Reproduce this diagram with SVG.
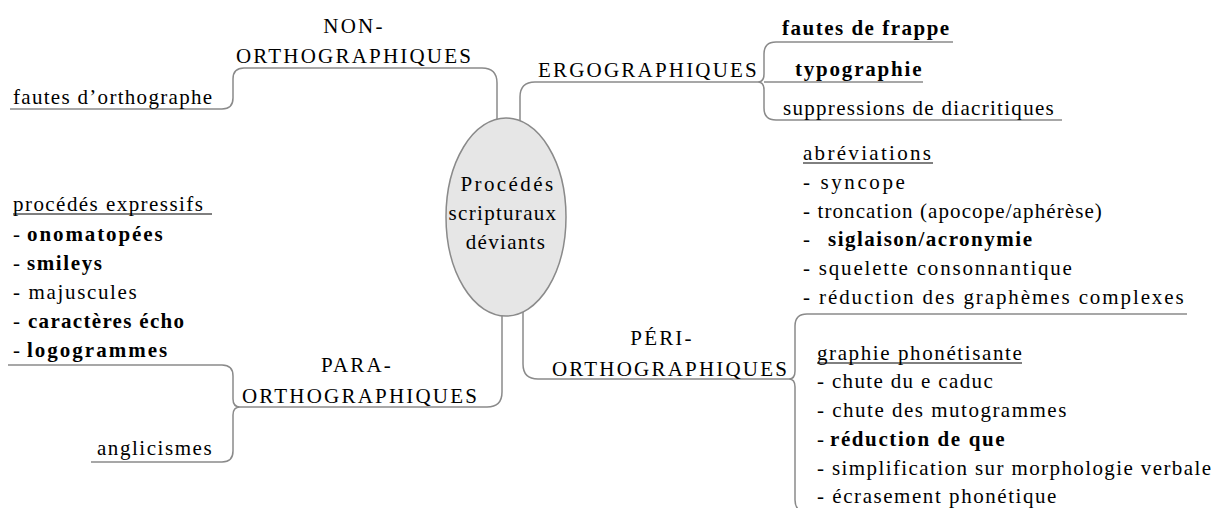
<svg xmlns="http://www.w3.org/2000/svg" width="1213" height="508" viewBox="0 0 1213 508">
<style>
.b{font-weight:bold}
.c{fill:none;stroke:#8a8a8a;stroke-width:1.5}
.u{stroke:#000;stroke-width:1}
</style>
<rect width="1213" height="508" fill="#fff"/>
<g id="connectors">
<path class="c" d="M10,109 L222,109 Q233,109 233,98 L233,79 Q233,68 244,68 L482,68 Q497,68 497,83 L497,122"/>
<path class="c" d="M520,122 L520,97 Q520,82 535,82 L758,82"/>
<path class="c" d="M953,42 L776,42 Q764,42 764,54 L764,74 Q764,82 758,82 Q764,82 764,90 L764,108 Q764,120 776,120 L1062,120 M764,82 L923,82"/>
<path class="c" d="M523,312 L523,364 Q523,379 538,379 L789,379"/>
<path class="c" d="M1187,314 L807,314 Q795,314 795,326 L795,371 Q795,379 789,379 Q795,379 795,387 L795,500 Q795,512 807,512"/>
<path class="c" d="M502,312 L502,392 Q502,407 487,407 L240,407"/>
<path class="c" d="M8,365 L222,365 Q233,365 233,376 L233,399 Q233,407 240,407 Q233,407 233,415 L233,451 Q233,462 222,462 L91,462"/>
</g>
<g font-family="Liberation Serif, serif" font-size="21" fill="#000">
<g id="center">
<ellipse cx="506" cy="217" rx="60" ry="99" fill="#e6e6e6" stroke="#8a8a8a" stroke-width="1.5"/>
<text x="508" y="191" text-anchor="middle" letter-spacing="2.4">Procédés</text>
<text x="503" y="220" text-anchor="middle" letter-spacing="1.3">scripturaux</text>
<text x="506" y="249" text-anchor="middle" letter-spacing="1.3">déviants</text>
</g>
<g id="non-ortho">
<text x="354" y="33" text-anchor="middle" letter-spacing="2.2">NON-</text>
<text x="236" y="63" letter-spacing="2.2">ORTHOGRAPHIQUES</text>
</g>
<g id="fautes-orthographe">
<text x="13" y="104" letter-spacing="1.3">fautes d’orthographe</text>
</g>
<g id="ergo">
<text x="538" y="77" letter-spacing="2.2">ERGOGRAPHIQUES</text>
</g>
<g id="fautes-frappe"><text class="b" x="782" y="35" letter-spacing="1.5">fautes de frappe</text></g>
<g id="typographie"><text class="b" x="795" y="76" letter-spacing="1.8">typographie</text></g>
<g id="suppressions"><text x="783" y="115" letter-spacing="1.3">suppressions de diacritiques</text></g>
<g id="peri">
<text x="662" y="345" text-anchor="middle" letter-spacing="2.2">PÉRI-</text>
<text x="552" y="376" letter-spacing="2.2">ORTHOGRAPHIQUES</text>
</g>
<g id="abreviations">
<text x="803" y="160" letter-spacing="2.3">abréviations</text>
<line class="u" x1="803" y1="163" x2="933" y2="163"/>
<text x="803" y="189" letter-spacing="2.6">- syncope</text>
<text x="803" y="218" letter-spacing="1.1">- troncation (apocope/aphérèse)</text>
<text x="803" y="246">-</text><text class="b" x="828" y="246" letter-spacing="1.5">siglaison/acronymie</text>
<text x="803" y="275" letter-spacing="1.8">- squelette consonnantique</text>
<text x="803" y="304" letter-spacing="1.9">- réduction des graphèmes complexes</text>
</g>
<g id="graphie-phonetisante">
<text x="817" y="360" letter-spacing="1.6">graphie phonétisante</text>
<line class="u" x1="817" y1="363" x2="1022" y2="363"/>
<text x="817" y="388" letter-spacing="1.35">- chute du e caduc</text>
<text x="817" y="417" letter-spacing="1.5">- chute des mutogrammes</text>
<text x="817" y="446">-</text><text class="b" x="830" y="446" letter-spacing="1.6">réduction de que</text>
<text x="817" y="475" letter-spacing="1.4">- simplification sur morphologie verbale</text>
<text x="817" y="503" letter-spacing="1.55">- écrasement phonétique</text>
</g>
<g id="para">
<text x="357" y="372" text-anchor="middle" letter-spacing="2.2">PARA-</text>
<text x="242" y="403" letter-spacing="2.2">ORTHOGRAPHIQUES</text>
</g>
<g id="procedes-expressifs">
<text x="13" y="211" letter-spacing="1.45">procédés expressifs</text>
<line class="u" x1="13" y1="214" x2="212" y2="214"/>
<text x="13" y="241">-</text><text class="b" x="27" y="241" letter-spacing="1.9">onomatopées</text>
<text x="13" y="270">-</text><text class="b" x="27" y="270" letter-spacing="1.6">smileys</text>
<text x="13" y="299" letter-spacing="1.65">- majuscules</text>
<text x="13" y="328">-</text><text class="b" x="28" y="328" letter-spacing="1.3">caractères écho</text>
<text x="13" y="357">-</text><text class="b" x="27" y="357" letter-spacing="2">logogrammes</text>
</g>
<g id="anglicismes">
<text x="97" y="455" letter-spacing="1.55">anglicismes</text>
</g>
</g>
</svg>
